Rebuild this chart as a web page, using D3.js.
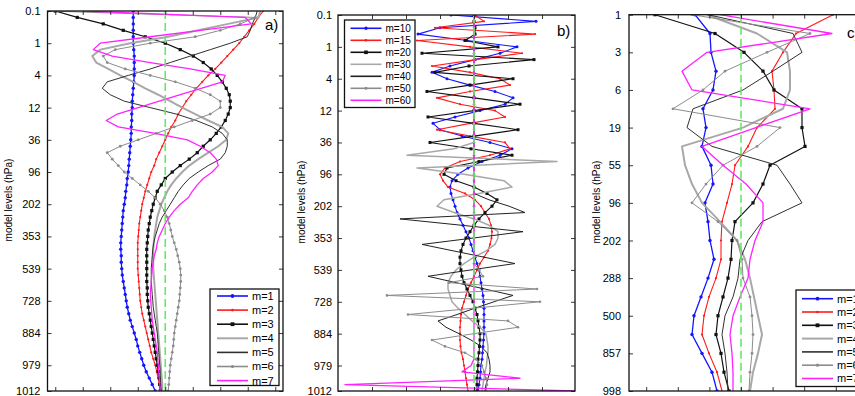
<!DOCTYPE html>
<html><head><meta charset="utf-8">
<script src="https://cdn.jsdelivr.net/npm/d3@7"></script>
<style>
body{margin:0;background:#fff}
svg{display:block}
text{font-family:"Liberation Sans",Arial,sans-serif;fill:#000}
</style></head>
<body><svg id="chart" width="855" height="396"></svg>
<script>
// ---------------- DATA ----------------
// Panels a) and b): 60 model levels; panel c): 21 model levels
const levels60 = d3.range(1, 61);
const levels21 = d3.range(0, 21);
const tickLevels60 = [1, 6, 11, 16, 21, 26, 31, 36, 41, 46, 51, 56, 60];
const tickLabels60 = ["0.1", "1", "4", "12", "36", "96", "202", "353", "539", "728", "884", "979", "1012"];
const tickLevels21 = [0, 2, 4, 6, 8, 10, 12, 14, 16, 18, 20];
const tickLabels21 = ["1", "3", "6", "19", "55", "96", "202", "288", "500", "857", "998"];

const namesA = ["m=1", "m=2", "m=3", "m=4", "m=5", "m=6", "m=7"];
const namesB = ["m=10", "m=15", "m=20", "m=30", "m=40", "m=50", "m=60"];

// panel a) mode amplitudes (arbitrary units)
const a_m1 = [-32,-32,-32,-32,-32,-32,-31.5,-31,-31,-31,-31,-31.5,-32,-32.5,-33,-33,-33.5,-33.5,-34,-34,-34.5,-35,-35.5,-36,-36.5,-37,-38,-38.5,-39.5,-40,-41,-42,-42.5,-43,-43.5,-44,-44.5,-44.5,-44,-44,-43.5,-43,-42,-41,-40,-39,-38,-36.5,-35,-33,-31,-29,-27.5,-25.5,-23.5,-21.5,-19,-16,-13,-10];
const a_m2 = [98,93,89,84,79,74,68,62,56,50,43,37,31,26,21,17,13,10,6,3,0,-3,-6,-9,-11,-14,-16,-18,-20,-21.5,-23,-24,-25,-26,-26.5,-27,-27.5,-27.5,-27.5,-27.5,-27.5,-27,-26.5,-26,-25.5,-25,-24,-23,-21.5,-20,-18.5,-17,-15.5,-14,-12,-10,-8.5,-7,-6,-5];
const a_m3 = [-110,-88,-62,-42,-20,0,15,28,38,46,52,57,61,64,65,65,63,60,56,51,45,38,32,24,15,7,0,-4,-8,-10,-12,-13.5,-15,-16,-17,-17.5,-18,-18.5,-18.5,-18.5,-18.5,-18.5,-18.5,-18,-18,-17.5,-17,-16,-15,-14,-13,-12,-11,-10,-9,-8,-7,-6,-5.5,-5];
const a_m4 = [95,93,63,33,3,-35,-65,-73,-69,-57,-45,-32,-20,-7,5,17,30,43,57,63,61,53,43,33,24,17,11,6,2,-1,-4,-6,-8,-9,-10,-11,-11.5,-12,-12,-12,-12,-11.5,-11,-10.5,-10,-9.5,-9,-8.5,-8,-7.5,-7,-6.5,-6,-5.5,-5,-4.5,-4,-3.5,-3,-3];
const a_m5 = [92,90,87,85,82,65,45,25,5,-15,-37,-58,-63,-55,-41,-15,11,31,47,57,62,62,60,55,43,33,24,18,13,9,5,1,-3,-6,-8,-10,-11.5,-12.5,-13,-13.5,-14,-14,-14,-13.5,-13,-12.5,-12,-11,-10,-9,-8,-7.5,-7,-6.5,-6,-5.5,-5,-5,-4.5,-4];
const a_m6 = [-117,90,75,55,30,-15,-50,-62,-58,-40,-15,10,30,45,55,55,45,27,9,-9,-27,-45,-58,-53,-47,-41,-33,-25,-17,-10,-5,-1,2,4,5.5,7,9,11,12.5,14,15,15.5,15.5,15,14.5,14,13,12,11,10,9,8.5,8,7,6,5,4.5,4,3.5,3];
const a_m7 = [-82,80,86,35,-15,-65,-72,-53,-15,25,60,57,36,15,-6,-27,-48,-59,-47,-10,22,35,45,51,53,47,38,32,27,23,15,9,4,0,-3,-6,-8,-9,-11,-12,-13,-13.5,-14,-14.5,-15,-14.5,-14,-13.5,-13,-12,-11,-10,-9,-8,-7.5,-7,-6.5,-6,-5.5,-5];

// panel b) mode amplitudes
const b_m10 = [-23,62,-34,-56,-7,43,26,1,-24,-42,-27,-4,21,39,31,6,-19,-41,-34,-12,16,38,26,8,-6,-16,-22,-24,-23,-21,-19,-17,-14,-11,-8,-5,-3,-1,1,3,5,6,7,8,9,9.5,10,10,10,10,10,9.5,9,8.5,8,7,6.5,6,5,4];
const b_m15 = [1,10,-39,61,-57,-4,48,2,-42,-4,26,36,-4,-37,-14,21,31,-4,-37,-4,31,36,16,-14,-29,-34,-31,-26,-9,1,7,11,15,17,18,17.5,16,14,10,6,3,0,-3,-6,-8,-10,-12,-13,-13.5,-14,-14,-14,-13.5,-12.5,-11,-10,-9,-8,-7,-6];
const b_m20 = [0,0,1,1,-9,24,-52,60,-5,-39,39,-4,-47,0,46,0,-46,0,44,0,-44,-3,38,5,-27,-30,-18,0,13,23,18,11,5,0,-4,-8,-11,-13,-14,-14,-13,-12,-10,-7,-4,-1,1,3,4,5,6,6,5.5,5,4,4,3.5,3,3,3];
const b_m30 = [0,0,0,0,0,0,0,0,0,0,0,0,0,0,0,0,0,0,0,0,0,-20,-67,83,-57,-10,30,38,5,-30,-37,-20,0,15,24,24,21,12,0,-10,-18,-23,-26,-26,-24,-22,-16,-9,-2,6,12,13,14,14,13,12.5,11,10,9,8];
const b_m40 = [0,0,0,0,0,0,0,0,0,0,0,0,0,0,0,0,0,0,0,0,0,0,0,0,0,0,0,0,0,15,35,51,-74,-12,49,-1,-52,-21,10,41,-3,-46,-18,11,39,20,1,-17,-36,-28,-15,-3,7,13,15,16,16,14,12,11];
const b_m50 = [0,0,0,0,0,0,0,0,0,0,0,0,0,0,0,0,0,0,0,0,0,0,0,0,0,0,0,0,0,0,0,0,0,0,0,0,0,0,0,0,5,9,-25,63,-87,66,0,-66,34,44,0,-42,-29,-9,2,8,10,12,13,12];
const b_m60 = [0,0,0,0,0,0,0,0,0,0,0,0,0,0,0,0,0,0,0,0,0,0,0,0,0,0,0,0,0,0,0,0,0,0,0,0,0,0,0,0,0,0,0,0,0,0,0,0,0,0,0,0,0,0,0,-3,-12,46,-129,101];

// panel c) mode amplitudes
const c_m1 = [-46,-31,-30,-25,-28,-38,-35,-39,-30,-28,-36,-33,-31,-27,-33,-40,-47,-49,-39,-29,-24];
const c_m2 = [92,55,42,31,33,34,16,7,-6,-9,-14,-19,-20,-20,-25,-32,-37,-39,-32,-24,-19];
const c_m3 = [-86,-26,3,22,33,61,61,64,29,22,12,-6,-9,-10,-13,-18,-23,-25,-20,-17,-12];
const c_m4 = [-34,16,46,49,49,42,2,-59,-56,-49,-39,-21,-4,4,9,13,17,21,17,12,9];
const c_m5 = [-33,52,61,32,2,-48,-54,-29,36,49,61,21,7,-1,-3,-8,-16,-19,-16,-14,-13];
const c_m6 = [-49,69,26,-16,-38,-68,39,16,-18,-35,-49,-23,-4,1,2,9,11,12,11,9,8];
const c_m7 = [-21,91,-34,-59,-49,69,15,-39,-18,5,22,22,14,9,7,-1,-8,-11,-9,-8,-8];

// ---------------- STYLES ----------------
const stylesA = [
  {color:"#1414ff", width:1.3, marker:"circle", r:1.7},
  {color:"#ff1a1a", width:1.1, marker:"circle", r:1.1},
  {color:"#111111", width:1.2, marker:"square", r:1.6},
  {color:"#a8a8a8", width:2.0, marker:null},
  {color:"#303030", width:1.0, marker:null},
  {color:"#8c8c8c", width:1.0, marker:"circle", r:1.4},
  {color:"#ff22ff", width:1.3, marker:null}
];
const stylesB = [
  {color:"#1414ff", width:1.1, marker:"circle", r:1.5},
  {color:"#ff1a1a", width:1.1, marker:"circle", r:1.1},
  {color:"#111111", width:1.1, marker:"square", r:1.5},
  {color:"#a8a8a8", width:1.5, marker:null},
  {color:"#222222", width:1.0, marker:null},
  {color:"#8c8c8c", width:1.0, marker:"circle", r:1.3},
  {color:"#ff22ff", width:1.3, marker:null}
];

const svg = d3.select("#chart");

function drawPanel(cfg) {
  const x = d3.scaleLinear().domain(cfg.xDomain).range([cfg.left, cfg.right]);
  const y = d3.scaleLinear().domain(cfg.yDomain).range([cfg.top, cfg.bottom]);
  const g = svg.append("g");
  const clipId = "clip-" + cfg.id;
  svg.append("clipPath").attr("id", clipId).append("rect")
    .attr("x", cfg.left).attr("y", cfg.top)
    .attr("width", cfg.right - cfg.left).attr("height", cfg.bottom - cfg.top);
  const plot = g.append("g").attr("clip-path", `url(#${clipId})`);

  const line = d3.line().x(d => x(d[0])).y(d => y(d[1]));
  cfg.series.forEach((vals, k) => {
    const st = cfg.styles[k];
    const pts = vals.map((v, i) => [v, cfg.levels[i]]);
    plot.append("path").attr("d", line(pts)).attr("fill", "none")
      .attr("stroke", st.color).attr("stroke-width", st.width)
      .attr("stroke-linejoin", "round");
    if (st.marker === "circle") {
      plot.selectAll(null).data(pts).enter().append("circle")
        .attr("cx", d => x(d[0])).attr("cy", d => y(d[1])).attr("r", st.r)
        .attr("fill", st.color);
    } else if (st.marker === "square") {
      plot.selectAll(null).data(pts).enter().append("rect")
        .attr("x", d => x(d[0]) - st.r).attr("y", d => y(d[1]) - st.r)
        .attr("width", 2 * st.r).attr("height", 2 * st.r).attr("fill", st.color);
    }
  });
  // zero reference (dashed green)
  plot.append("line").attr("x1", x(0)).attr("x2", x(0))
    .attr("y1", cfg.top).attr("y2", cfg.bottom)
    .attr("stroke", "#66e866").attr("stroke-width", 1.6)
    .attr("stroke-dasharray", "8,4");

  // axes with inward ticks
  const yl = d3.axisLeft(y).tickValues(cfg.tickLevels)
    .tickFormat((d, i) => cfg.tickLabels[i]).tickSizeInner(-4).tickSizeOuter(0).tickPadding(cfg.labelPad);
  const yr = d3.axisRight(y).tickValues(cfg.tickLevels).tickFormat("").tickSizeInner(-4).tickSizeOuter(0);
  const xt = d3.axisTop(x).tickValues(cfg.xTicks).tickFormat("").tickSizeInner(-4).tickSizeOuter(0);
  const xb = d3.axisBottom(x).tickValues(cfg.xTicks).tickFormat("").tickSizeInner(-4).tickSizeOuter(0);
  const ga = g.append("g").attr("transform", `translate(${cfg.left},0)`).call(yl);
  g.append("g").attr("transform", `translate(${cfg.right},0)`).call(yr);
  g.append("g").attr("transform", `translate(0,${cfg.top})`).call(xt);
  g.append("g").attr("transform", `translate(0,${cfg.bottom})`).call(xb);
  g.selectAll(".domain").remove();
  g.selectAll(".tick line").attr("stroke", "#222").attr("stroke-width", 0.9);
  ga.selectAll("text").attr("font-size", 11).attr("font-family", "Liberation Sans, Arial, sans-serif").attr("fill", "#111");

  g.append("rect").attr("x", cfg.left).attr("y", cfg.top)
    .attr("width", cfg.right - cfg.left).attr("height", cfg.bottom - cfg.top)
    .attr("fill", "none").attr("stroke", "#111").attr("stroke-width", 1.3);

  // y title
  g.append("text").attr("transform", `translate(${cfg.titleX},${cfg.titleY}) rotate(-90)`)
    .attr("text-anchor", "middle").attr("font-size", 10).attr("fill", "#222")
    .text("model levels (hPa)");
  // panel letter
  g.append("text").attr("x", cfg.letterX).attr("y", cfg.letterY)
    .attr("font-size", 15).text(cfg.letter);

  // legend
  const L = cfg.legend;
  const lg = g.append("g");
  lg.append("rect").attr("x", L.x).attr("y", L.y).attr("width", L.w).attr("height", L.h)
    .attr("fill", "#fff").attr("stroke", "#111").attr("stroke-width", 1.3);
  cfg.names.forEach((nm, k) => {
    const st = cfg.styles[k];
    const yy = L.y + L.first + k * L.step;
    lg.append("line").attr("x1", L.x + L.lx1).attr("x2", L.x + L.lx2).attr("y1", yy).attr("y2", yy)
      .attr("stroke", st.color).attr("stroke-width", Math.max(st.width, 1.6));
    const mx = L.x + (L.lx1 + L.lx2) / 2;
    if (st.marker === "circle") lg.append("circle").attr("cx", mx).attr("cy", yy).attr("r", st.r + 0.2).attr("fill", st.color);
    if (st.marker === "square") lg.append("rect").attr("x", mx - st.r - 0.3).attr("y", yy - st.r - 0.3)
      .attr("width", 2 * st.r + 0.6).attr("height", 2 * st.r + 0.6).attr("fill", st.color);
    lg.append("text").attr("x", L.x + L.tx).attr("y", yy + L.fs * 0.36)
      .attr("font-size", L.fs).attr("fill", "#222").text(nm);
  });
}

drawPanel({
  id: "a", left: 47.5, right: 283, top: 11, bottom: 391,
  xDomain: [-117.75, 117.75], xTicks: [-110, -82.5, -55, -27.5, 0, 27.5, 55, 82.5, 110],
  yDomain: [1, 60], levels: levels60, tickLevels: tickLevels60, tickLabels: tickLabels60, labelPad: 7,
  series: [a_m1, a_m2, a_m3, a_m4, a_m5, a_m6, a_m7], styles: stylesA, names: namesA,
  titleX: 12, titleY: 200, letter: "a)", letterX: 265, letterY: 30,
  legend: {x: 210, y: 289, w: 69, h: 96.5, first: 7, step: 14.1, lx1: 7, lx2: 38, tx: 42, fs: 11}
});
drawPanel({
  id: "b", left: 338, right: 575, top: 15, bottom: 391,
  xDomain: [-136, 101], xTicks: [-102, -68, -34, 0, 34, 68],
  yDomain: [1, 60], levels: levels60, tickLevels: tickLevels60, tickLabels: tickLabels60, labelPad: 6,
  series: [b_m10, b_m15, b_m20, b_m30, b_m40, b_m50, b_m60], styles: stylesB, names: namesB,
  titleX: 305, titleY: 202, letter: "b)", letterX: 557, letterY: 36,
  legend: {x: 344.5, y: 20, w: 70.5, h: 87.5, first: 8.3, step: 12, lx1: 6, lx2: 37, tx: 41, fs: 10}
});
drawPanel({
  id: "c", left: 629, right: 869, top: 14.7, bottom: 391,
  xDomain: [-112, 128], xTicks: [-94.8, -63.2, -31.6, 0, 31.6, 63.2, 94.8, 126.4],
  yDomain: [0, 20], levels: levels21, tickLevels: tickLevels21, tickLabels: tickLabels21, labelPad: 8,
  series: [c_m1, c_m2, c_m3, c_m4, c_m5, c_m6, c_m7], styles: stylesA, names: namesA,
  titleX: 600, titleY: 202, letter: "c)", letterX: 847, letterY: 38,
  legend: {x: 796, y: 290, w: 69, h: 96.5, first: 8.7, step: 13.3, lx1: 6, lx2: 37, tx: 41, fs: 11}
});
</script>
</body></html>
